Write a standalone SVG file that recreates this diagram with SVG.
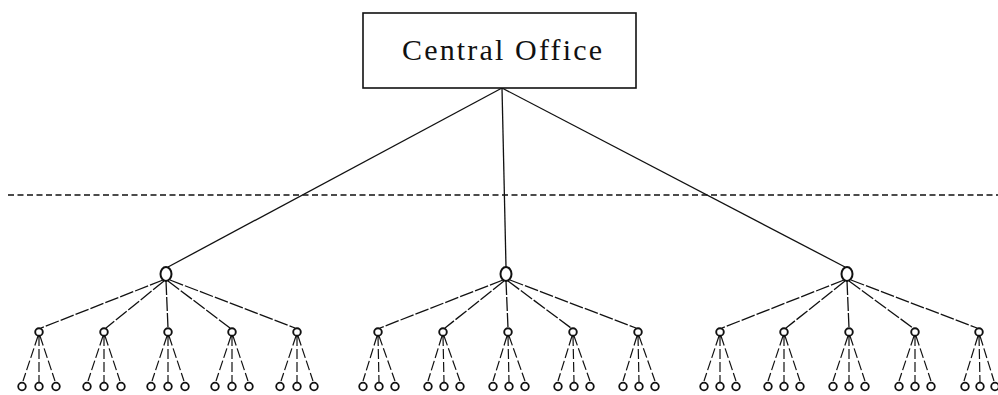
<svg xmlns="http://www.w3.org/2000/svg" width="998" height="395" viewBox="0 0 998 395">
<style>
.bg{fill:#fff}
.box{fill:#fff;stroke:#111;stroke-width:1.6}
.t{font-family:"Liberation Serif",serif;font-size:30px;fill:#111}
.l1{fill:none;stroke:#111;stroke-width:2}
.n2{fill:none;stroke:#111;stroke-width:1.9}
.lf{fill:none;stroke:#111;stroke-width:1.8}
.c{stroke:#111;stroke-width:1.3;fill:none}
.cd{stroke:#111;stroke-width:1.3;fill:none;stroke-dasharray:14,2}
.cl{stroke:#111;stroke-width:1.2;fill:none;stroke-dasharray:10,3}
.hd{stroke:#111;stroke-width:1.6;stroke-dasharray:6,3.5;fill:none}
</style>
<rect class="bg" x="0" y="0" width="998" height="395"/>
<g id="connectors">
<line class="hd" x1="8" y1="195" x2="998" y2="195"/>
<line class="c" x1="502" y1="88" x2="168" y2="267"/>
<line class="c" x1="502" y1="88" x2="506" y2="267"/>
<line class="c" x1="502" y1="88" x2="845" y2="267"/>
<line class="cd" x1="163" y1="280" x2="41" y2="328"/>
<line class="cd" x1="164" y1="281" x2="106" y2="328"/>
<line class="cd" x1="166" y1="281" x2="168" y2="328"/>
<line class="cd" x1="168" y1="281" x2="230" y2="328"/>
<line class="cd" x1="170" y1="280" x2="295" y2="328"/>
<line class="cd" x1="503" y1="280" x2="380" y2="328"/>
<line class="cd" x1="504" y1="281" x2="445" y2="328"/>
<line class="cd" x1="506" y1="281" x2="508" y2="328"/>
<line class="cd" x1="508" y1="281" x2="571" y2="328"/>
<line class="cd" x1="510" y1="280" x2="636" y2="328"/>
<line class="cd" x1="844" y1="280" x2="722" y2="328"/>
<line class="cd" x1="845" y1="281" x2="786" y2="328"/>
<line class="cd" x1="847" y1="281" x2="849" y2="328"/>
<line class="cd" x1="849" y1="281" x2="913" y2="328"/>
<line class="cd" x1="851" y1="280" x2="977" y2="328"/>
<g id="leafconn">
<path class="cl" d="M38,336 L23,381 M39,336 L39,382 M40,336 L55,381"/>
<path class="cl" d="M103,336 L88,381 M104,336 L104,382 M105,336 L120,381"/>
<path class="cl" d="M167,336 L152,381 M168,336 L168,382 M169,336 L184,381"/>
<path class="cl" d="M231,336 L216,381 M232,336 L232,382 M233,336 L248,381"/>
<path class="cl" d="M296,336 L281,381 M297,336 L297,382 M298,336 L313,381"/>
<path class="cl" d="M377,336 L363,381 M378,336 L379,382 M379,336 L395,381"/>
<path class="cl" d="M442,336 L428,381 M443,336 L444,382 M444,336 L460,381"/>
<path class="cl" d="M507,336 L493,381 M508,336 L509,382 M509,336 L525,381"/>
<path class="cl" d="M572,336 L558,381 M573,336 L574,382 M574,336 L590,381"/>
<path class="cl" d="M637,336 L623,381 M638,336 L639,382 M639,336 L655,381"/>
<path class="cl" d="M719,336 L704,381 M720,336 L720,382 M721,336 L736,381"/>
<path class="cl" d="M783,336 L768,381 M784,336 L784,382 M785,336 L800,381"/>
<path class="cl" d="M848,336 L833,381 M849,336 L849,382 M850,336 L865,381"/>
<path class="cl" d="M914,336 L899,381 M915,336 L915,382 M916,336 L931,381"/>
<path class="cl" d="M978,336 L964,381 M979,336 L980,382 M980,336 L994,381"/>
</g>
</g>
<g id="central-office">
<rect class="box" x="363" y="13" width="273" height="75"/>
<text class="t" x="402" y="60" textLength="200" lengthAdjust="spacing">Central Office</text>
</g>
<g id="level1">
<ellipse class="l1" cx="166" cy="274" rx="5.5" ry="7"/>
<ellipse class="l1" cx="506" cy="274" rx="5.5" ry="7"/>
<ellipse class="l1" cx="847" cy="274" rx="5.5" ry="7"/>
</g>
<g id="level2">
<circle class="n2" cx="39" cy="332" r="3.8"/>
<circle class="n2" cx="104" cy="332" r="3.8"/>
<circle class="n2" cx="168" cy="332" r="3.8"/>
<circle class="n2" cx="232" cy="332" r="3.8"/>
<circle class="n2" cx="297" cy="332" r="3.8"/>
<circle class="n2" cx="378" cy="332" r="3.8"/>
<circle class="n2" cx="443" cy="332" r="3.8"/>
<circle class="n2" cx="508" cy="332" r="3.8"/>
<circle class="n2" cx="573" cy="332" r="3.8"/>
<circle class="n2" cx="638" cy="332" r="3.8"/>
<circle class="n2" cx="720" cy="332" r="3.8"/>
<circle class="n2" cx="784" cy="332" r="3.8"/>
<circle class="n2" cx="849" cy="332" r="3.8"/>
<circle class="n2" cx="915" cy="332" r="3.8"/>
<circle class="n2" cx="979" cy="332" r="3.8"/>
</g>
<g id="leaves">
<circle class="lf" cx="22" cy="386.5" r="3.8"/><circle class="lf" cx="39" cy="386.5" r="3.8"/><circle class="lf" cx="56" cy="386.5" r="3.8"/>
<circle class="lf" cx="87" cy="386.5" r="3.8"/><circle class="lf" cx="104" cy="386.5" r="3.8"/><circle class="lf" cx="121" cy="386.5" r="3.8"/>
<circle class="lf" cx="151" cy="386.5" r="3.8"/><circle class="lf" cx="168" cy="386.5" r="3.8"/><circle class="lf" cx="185" cy="386.5" r="3.8"/>
<circle class="lf" cx="215" cy="386.5" r="3.8"/><circle class="lf" cx="232" cy="386.5" r="3.8"/><circle class="lf" cx="249" cy="386.5" r="3.8"/>
<circle class="lf" cx="280" cy="386.5" r="3.8"/><circle class="lf" cx="297" cy="386.5" r="3.8"/><circle class="lf" cx="314" cy="386.5" r="3.8"/>
<circle class="lf" cx="363" cy="386.5" r="3.8"/><circle class="lf" cx="379" cy="386.5" r="3.8"/><circle class="lf" cx="395" cy="386.5" r="3.8"/>
<circle class="lf" cx="428" cy="386.5" r="3.8"/><circle class="lf" cx="444" cy="386.5" r="3.8"/><circle class="lf" cx="460" cy="386.5" r="3.8"/>
<circle class="lf" cx="493" cy="386.5" r="3.8"/><circle class="lf" cx="509" cy="386.5" r="3.8"/><circle class="lf" cx="525" cy="386.5" r="3.8"/>
<circle class="lf" cx="558" cy="386.5" r="3.8"/><circle class="lf" cx="574" cy="386.5" r="3.8"/><circle class="lf" cx="590" cy="386.5" r="3.8"/>
<circle class="lf" cx="623" cy="386.5" r="3.8"/><circle class="lf" cx="639" cy="386.5" r="3.8"/><circle class="lf" cx="655" cy="386.5" r="3.8"/>
<circle class="lf" cx="704" cy="386.5" r="3.8"/><circle class="lf" cx="720" cy="386.5" r="3.8"/><circle class="lf" cx="736" cy="386.5" r="3.8"/>
<circle class="lf" cx="768" cy="386.5" r="3.8"/><circle class="lf" cx="784" cy="386.5" r="3.8"/><circle class="lf" cx="800" cy="386.5" r="3.8"/>
<circle class="lf" cx="833" cy="386.5" r="3.8"/><circle class="lf" cx="849" cy="386.5" r="3.8"/><circle class="lf" cx="865" cy="386.5" r="3.8"/>
<circle class="lf" cx="899" cy="386.5" r="3.8"/><circle class="lf" cx="915" cy="386.5" r="3.8"/><circle class="lf" cx="931" cy="386.5" r="3.8"/>
<circle class="lf" cx="965" cy="386.5" r="3.8"/><circle class="lf" cx="980" cy="386.5" r="3.8"/><circle class="lf" cx="995" cy="386.5" r="3.8"/>
</g>
</svg>
